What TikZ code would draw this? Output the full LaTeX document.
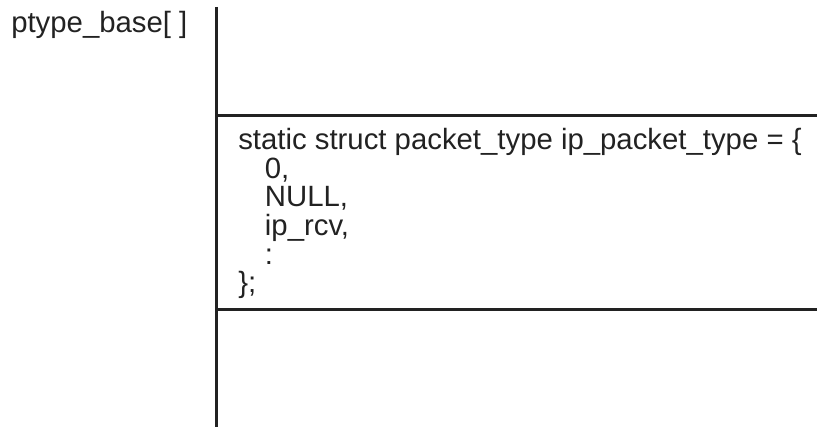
\documentclass[tikz,border=0pt]{standalone}
\usepackage{fontspec}
\setmainfont{Liberation Sans}
\usepackage{tikz}
\usetikzlibrary{positioning,calc}

\definecolor{inkgray}{HTML}{222222}
\tikzset{
  rule/.style={line width=2.25pt, draw=inkgray},
  codetext/.style={font=\fontsize{22}{21.5}\selectfont, text=inkgray, inner sep=0pt, align=left},
}

\begin{document}
\begin{tikzpicture}[x=0.75pt, y=-0.75pt]
        \useasboundingbox (0,0) rectangle (817,427);
        % Array axis
        \coordinate (axtop) at (216.5,7);
        \coordinate (axbot) at (216.5,427);
        \draw[rule] (axtop) -- (axbot);
        % Entry borders
        \coordinate (topl) at (216.5,116);
        \coordinate (topr) at (817,116);
        \coordinate (botl) at (216.5,310);
        \coordinate (botr) at (817,310);
        \draw[rule] (topl) -- (topr);
        \draw[rule] (botl) -- (botr);
        % Labels
        \node[codetext, anchor=base west] (basename) at (11,33) {ptype\_base[ ]};
        \node[codetext, anchor=north west] (entry) at (238,128) {%
            static struct packet\_type ip\_packet\_type = \{\\
            \hspace*{20pt}0,\\
            \hspace*{20pt}NULL,\\
            \hspace*{20pt}ip\_rcv,\\
            \hspace*{20pt}:\\
            \};};
    \end{tikzpicture}
\end{document}
